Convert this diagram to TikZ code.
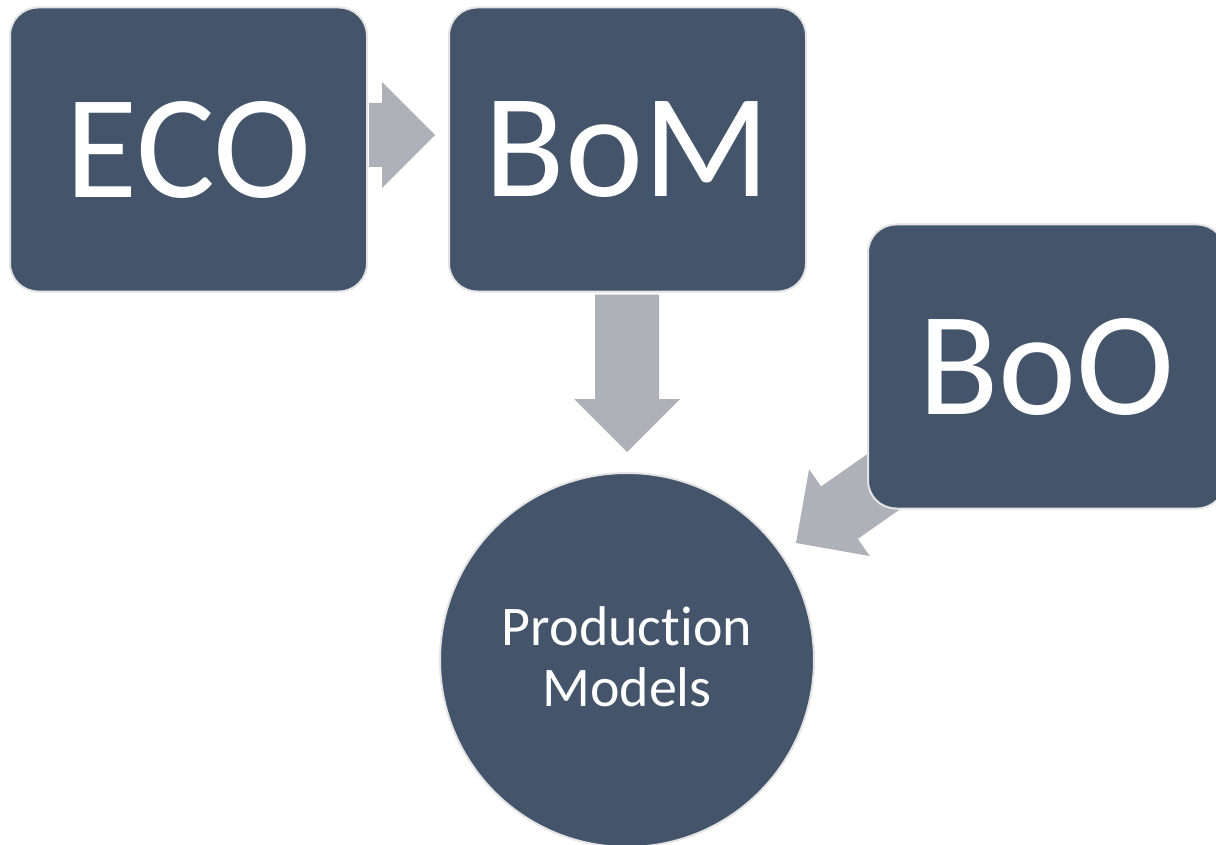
\documentclass[tikz,border=0pt]{standalone}
\usepackage{fontspec}
\setmainfont{Carlito}[Ligatures={NoCommon}]
\usetikzlibrary{calc}
\pgfdeclarelayer{background}
\pgfsetlayers{background,main}
\definecolor{boxfill}{HTML}{44546A}
\definecolor{boxline}{HTML}{E4E4E4}
\definecolor{arrowfill}{HTML}{AFB1B8}
\newcommand\blockarr[3]{% #1 prefix, #2 start, #3 tip
  \coordinate (#1h) at ($(#3)!53pt!(#2)$);
  \fill[arrowfill] ($(#2)!32pt!-90:(#3)$) -- ($(#1h)!32pt!-90:(#3)$) -- ($(#1h)!53pt!-90:(#3)$) -- (#3) -- ($(#1h)!53pt!90:(#3)$) -- ($(#1h)!32pt!90:(#3)$) -- ($(#2)!32pt!90:(#3)$) -- cycle;}
\begin{document}
\begin{tikzpicture}[x=1pt,y=-1pt,
  box/.style={draw=boxline, line width=2pt, fill=boxfill, rounded corners=28pt,
    minimum width=357pt, minimum height=284pt, inner sep=0pt, text=white,
    font=\fontsize{148}{150}\selectfont},
  roundnode/.style={circle, draw=boxline, line width=2pt, fill=boxfill,
    minimum size=374pt, inner sep=0pt, text=white, align=center,
    font=\fontsize{56}{61}\selectfont}]
\useasboundingbox (0,0) rectangle (1216,845);
\node[box] (eco) at (188.5,149.5) {ECO};
\node[box] (bom) at (627.5,149.5) {BoM};
\node[box] (boo) at (1046.5,366.5) {BoO};
\node[roundnode] (pm) at (627,660) {Production\\Models\rule[-6pt]{0pt}{1pt}};
\coordinate (a1s) at ($(eco.east)+(1,-14.5)$);
\coordinate (a1e) at ($(bom.west)+(-13,-14.5)$);
\coordinate (a2s) at ($(bom.south)+(-0.5,2)$);
\coordinate (a2e) at ($(pm.north)+(0,-20)$);
\coordinate (a3s) at ($(boo.center)+(-127.5,90.5)$);
\coordinate (a3e) at ($(pm.center)+(169,-117)$);
\begin{pgfonlayer}{background}
\blockarr{a1}{a1s}{a1e}
\blockarr{a2}{a2s}{a2e}
\blockarr{a3}{a3s}{a3e}
\end{pgfonlayer}
\end{tikzpicture}
\end{document}
